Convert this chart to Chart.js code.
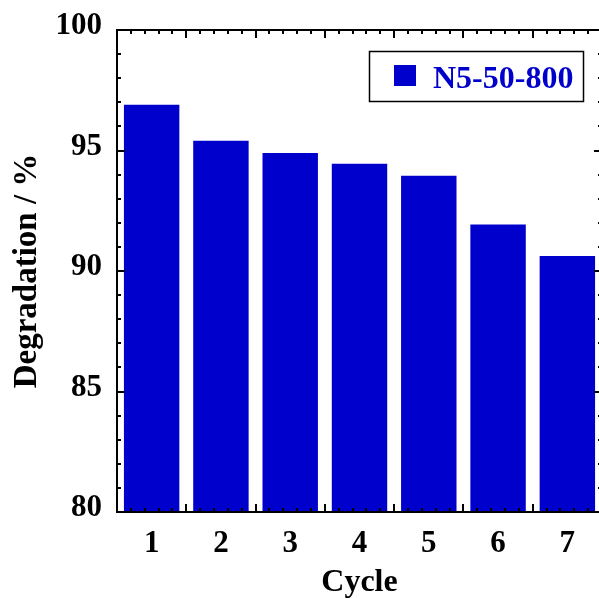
<!DOCTYPE html>
<html>
<head>
<meta charset="utf-8">
<script src="https://cdn.jsdelivr.net/npm/chart.js@4.4.1/dist/chart.umd.min.js"></script>
<style>
	html, body { margin: 0; padding: 0; background: #fff; overflow: hidden; }
	#wrap { width: 606px; height: 599px; }
</style>
</head>
<body>
<div id="wrap"><canvas id="chart"></canvas></div>
<script>
// ── Data ─────────────────────────────────────────────────
const cycles      = [ '1', '2', '3', '4', '5', '6', '7' ];
const degradation = [ 96.9, 95.4, 94.9, 94.45, 93.95, 91.93, 90.62 ];
const seriesName  = 'N5-50-800';
const yTicks      = [ 80, 85, 90, 95, 100 ];

const serif = "'Times New Roman', 'Liberation Serif', serif";
const blue  = '#0000cc';

// ── Frame, inward ticks and legend box ───────────────────
const framePlugin = {
	id: 'frame',
	afterDatasetsDraw( chart ) {
		const { ctx, chartArea: a, scales } = chart;
		const y = scales.y;
		ctx.save();
		ctx.strokeStyle = '#000';
		ctx.lineWidth = 2;

		// y ticks (major every 5, minor every 1) on left + right
		for ( let v = yTicks[ 0 ]; v <= yTicks[ yTicks.length - 1 ]; v++ ) {
			const py = Math.round( y.getPixelForValue( v ) );
			const len = v % 5 === 0 ? 8 : 4;
			ctx.beginPath();
			ctx.moveTo( a.left, py ); ctx.lineTo( a.left + len, py );
			ctx.moveTo( a.right, py ); ctx.lineTo( a.right - len, py );
			ctx.stroke();
		}

		// x ticks: major at category boundaries, 4 minor between
		const step = ( a.right - a.left ) / cycles.length;
		for ( let i = 0; i <= cycles.length * 5; i++ ) {
			const px = Math.round( a.left + i * step / 5 );
			const len = i % 5 === 0 ? 8 : 4;
			ctx.beginPath();
			ctx.moveTo( px, a.top ); ctx.lineTo( px, a.top + len );
			ctx.moveTo( px, a.bottom ); ctx.lineTo( px, a.bottom - len );
			ctx.stroke();
		}

		ctx.strokeRect( a.left, a.top, a.right - a.left, a.bottom - a.top );

		// legend
		const ds = chart.data.datasets[ 0 ];
		ctx.lineWidth = 1.5;
		ctx.strokeRect( 369.5, 51.5, 214, 50 );
		ctx.fillStyle = ds.backgroundColor;
		ctx.fillRect( 394, 65, 22, 21 );
		ctx.font = 'bold 32px ' + serif;
		ctx.textBaseline = 'alphabetic';
		ctx.fillText( ds.label, 433, 88 );
		ctx.restore();
	},
};

new Chart( document.getElementById( 'chart' ), {
	type: 'bar',
	data: {
		labels: cycles,
		datasets: [
			{
				label              : seriesName,
				data               : degradation,
				backgroundColor    : blue,
				borderWidth        : 0,
				categoryPercentage : 1,
				barPercentage      : 0.8,
			},
		],
	},
	options: {
		responsive          : true,
		maintainAspectRatio : false,
		animation           : false,
		layout: { padding: { top: 30, right: 4, left: 0, bottom: 0 } },
		plugins: {
			legend  : { display: false },
			tooltip : { enabled: false },
		},
		scales: {
			x: {
				grid   : { display: false, drawTicks: false },
				border : { display: false },
				ticks: {
					color   : '#000',
					padding : 13,
					font    : { family: serif, size: 31, weight: 'bold' },
				},
				title: {
					display : true,
					text    : 'Cycle',
					color   : '#000',
					padding : { top: 1, bottom: 0 },
					font    : { family: serif, size: 32, weight: 'bold', lineHeight: 1 },
				},
				afterFit: ( s ) => { s.height = 87; },
			},
			y: {
				min    : 80,
				max    : 100,
				grid   : { display: false, drawTicks: false },
				border : { display: false },
				ticks: {
					stepSize    : 5,
					color       : '#000',
					padding     : 15,
					labelOffset : -4,
					font        : { family: serif, size: 31, weight: 'bold' },
				},
				title: {
					display : true,
					text    : 'Degradation / %',
					color   : '#000',
					padding : { top: 11, bottom: 0 },
					font    : { family: serif, size: 33, weight: 'bold', lineHeight: 1 },
				},
				afterFit: ( s ) => {
					s.width = 117;
					s.paddingTop = 0;
					s.paddingBottom = 0;
				},
			},
		},
	},
	plugins: [ framePlugin ],
} );
</script>
</body>
</html>
